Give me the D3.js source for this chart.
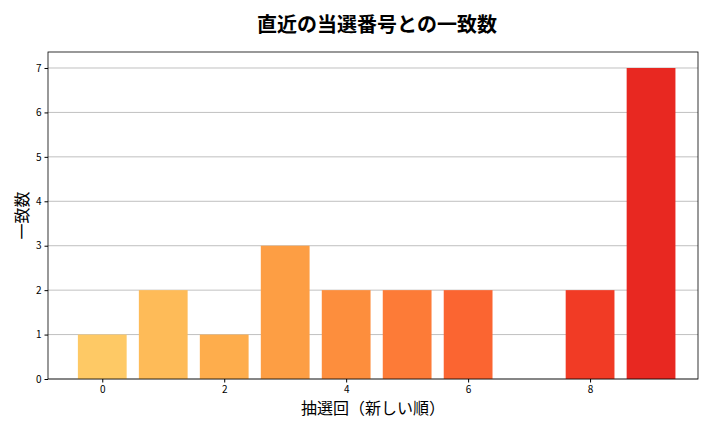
<!DOCTYPE html><html><head><meta charset="utf-8"><script src="https://cdn.jsdelivr.net/npm/d3@7"></script>
<style>body{margin:0;background:#fff}text{font-family:"Noto Sans CJK JP","DejaVu Sans",sans-serif}</style></head><body><svg id="c" width="720" height="432"></svg>
<script>
const draws=[0,1,2,3,4,5,6,7,8,9];
const matches=[1,2,1,3,2,2,2,0,2,7];
const xTicks=[0,2,4,6,8];
const yTicks=[0,1,2,3,4,5,6,7];
const svg=d3.select("#c");
const L=48,R=698,T=52,B=379;
const x=d3.scaleLinear().domain([-0.89,9.77]).range([L,R]);
const y=d3.scaleLinear().domain([0,7.36]).range([B,T]);
const col=i=>d3.interpolateYlOrRd(0.3+i/9*0.42);
svg.append("g").selectAll("line").data(yTicks).join("line").attr("x1",L).attr("x2",R).attr("y1",d=>y(d)).attr("y2",d=>y(d)).attr("stroke","#b0b0b0").attr("stroke-width",0.8);
svg.append("g").selectAll("rect").data(draws).join("rect").attr("x",d=>x(d-0.4)).attr("width",x(0.8)-x(0)).attr("y",(d,i)=>y(matches[i])).attr("height",(d,i)=>B-y(matches[i])).attr("fill",(d,i)=>col(i));
svg.append("rect").attr("x",L).attr("y",T).attr("width",R-L).attr("height",B-T).attr("fill","none").attr("stroke","#000").attr("stroke-width",0.8);
const ax=svg.append("g").attr("transform",`translate(0,${B})`).call(d3.axisBottom(x).tickValues(xTicks).tickSize(3.5).tickFormat(d3.format("d")));
const ay=svg.append("g").attr("transform",`translate(${L},0)`).call(d3.axisLeft(y).tickValues(yTicks).tickSize(3.5).tickFormat(d3.format("d")));
[ax,ay].forEach(a=>{a.select(".domain").remove();a.selectAll("text").attr("font-size",10).attr("font-family","DejaVu Sans");});
svg.append("text").attr("x",377).attr("y",32).attr("text-anchor","middle").attr("font-size",20).attr("font-weight","bold").text("直近の当選番号との一致数");
svg.append("text").attr("x",373).attr("y",414).attr("text-anchor","middle").attr("font-size",16).text("抽選回（新しい順）");
svg.append("text").attr("transform",`translate(28,${(T+B)/2}) rotate(-90)`).attr("text-anchor","middle").attr("font-size",16).text("一致数");
</script></body></html>
